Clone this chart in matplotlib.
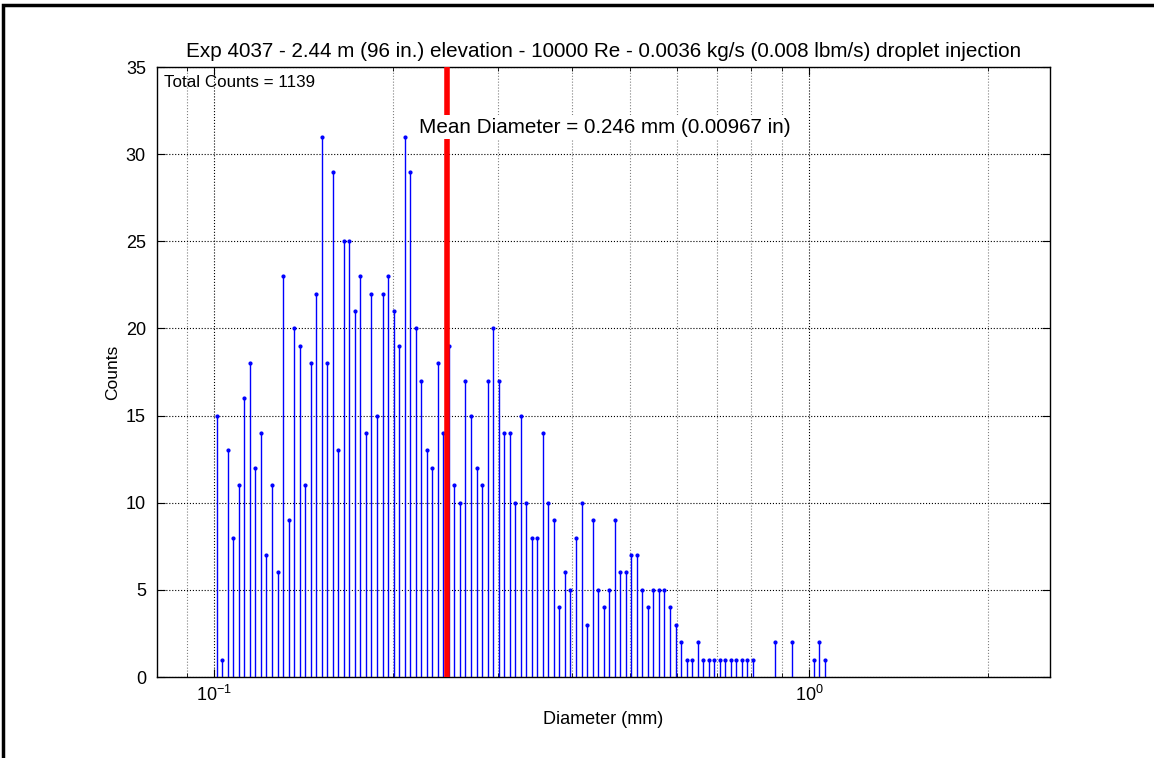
import numpy as np
import matplotlib
matplotlib.use("Agg")
import matplotlib.pyplot as plt
from matplotlib.ticker import LogLocator, NullFormatter
from matplotlib.patches import Rectangle

plt.rcParams['font.family'] = ['Liberation Sans', 'DejaVu Sans']

# bin centres (mm) (log-spaced bins)
diameters = [
    0.10105, 0.10324, 0.10547, 0.10775, 0.11008, 0.11246, 0.11489, 0.11737, 0.11991, 0.12250,
    0.12515, 0.12786, 0.13062, 0.13344, 0.13633, 0.13928, 0.14229, 0.14536, 0.14851, 0.15172,
    0.15500, 0.15835, 0.16177, 0.16527, 0.16884, 0.17249, 0.17622, 0.18003, 0.18392, 0.18790,
    0.19196, 0.19611, 0.20035, 0.20468, 0.20911, 0.21363, 0.21824, 0.22296, 0.22778, 0.23271,
    0.23774, 0.24288, 0.24813, 0.25349, 0.25897, 0.26457, 0.27029, 0.27614, 0.28211, 0.28820,
    0.29444, 0.30080, 0.30730, 0.31395, 0.32073, 0.32767, 0.33475, 0.34199, 0.34938, 0.35694,
    0.36465, 0.37254, 0.38059, 0.38882, 0.39722, 0.40581, 0.41458, 0.42355, 0.43270, 0.44206,
    0.45162, 0.46138, 0.47135, 0.48154, 0.49195, 0.50259, 0.51346, 0.52456, 0.53590, 0.54748,
    0.55932, 0.57141, 0.58376, 0.59638, 0.60928, 0.62245, 0.63590, 0.64965, 0.66370, 0.67805,
    0.69270, 0.70768, 0.72298, 0.73861, 0.75458, 0.77089, 0.78756, 0.80458, 0.82198, 0.83975,
    0.85790, 0.87645, 0.89540, 0.91475, 0.93453, 0.95473, 0.97537, 0.99646, 1.01800, 1.04001,
    1.06249,
]

counts = [
    15, 1, 13, 8, 11, 16, 18, 12, 14, 7, 11, 6, 23, 9, 20, 19, 11, 18, 22, 31, 18, 29,
    13, 25, 25, 21, 23, 14, 22, 15, 22, 23, 21, 19, 31, 29, 20, 17, 13, 12, 18, 14, 19, 11,
    10, 17, 15, 12, 11, 17, 20, 17, 14, 14, 10, 15, 10, 8, 8, 14, 10, 9, 4, 6, 5,
    8, 10, 3, 9, 5, 4, 5, 9, 6, 6, 7, 7, 5, 4, 5, 5, 5, 4, 3, 2, 1, 1,
    2, 1, 1, 1, 1, 1, 1, 1, 1, 1, 1, 0, 0, 0, 2, 0, 0, 2, 0, 0, 0, 1, 2, 1,
]

mean_diameter = 0.246
title = "Exp 4037 - 2.44 m (96 in.) elevation - 10000 Re - 0.0036 kg/s (0.008 lbm/s) droplet injection"
mean_label = "Mean Diameter = 0.246 mm (0.00967 in)"
total_label = "Total Counts = %d" % sum(counts)
x_limits = (0.0802, 2.54)
y_limits = (0, 35)
y_ticks = [0, 5, 10, 15, 20, 25, 30, 35]

fig = plt.figure(figsize=(11.54, 7.58), dpi=100)
ax = fig.add_axes([157/1154, 81/758, 893/1154, 610/758])

d = np.array(diameters)
c = np.array(counts)
m = c > 0
ml, sl, bl = ax.stem(d[m], c[m], linefmt='b-', markerfmt='b.', basefmt=' ')
plt.setp(sl, linewidth=1.0, color=(0, 0, 1))
plt.setp(ml, markersize=4, color=(0, 0, 1))

ax.plot([mean_diameter, mean_diameter], [0, 35], color='red', linewidth=4, zorder=4)
ax.text(0.9 * mean_diameter, 31.55, mean_label, fontsize=14.9, ha='left', va='center',
        zorder=5, bbox=dict(facecolor='white', edgecolor='none', pad=2))
ax.text(0.0823, 34.1, total_label, fontsize=12.25, ha='left', va='center', zorder=5)

ax.set_xscale('log')
ax.set_xlim(*x_limits)
ax.set_ylim(*y_limits)
ax.set_yticks(y_ticks)
ax.xaxis.set_major_locator(LogLocator(base=10))
ax.xaxis.set_minor_locator(LogLocator(base=10, subs=np.arange(2, 10)))
ax.xaxis.set_minor_formatter(NullFormatter())

ax.grid(True, which='major', linestyle=':', color='black', linewidth=0.8)
ax.grid(True, which='minor', axis='x', linestyle=':', color='0.5', linewidth=0.8)
ax.set_axisbelow(True)

ax.tick_params(which='both', direction='in', top=True, right=True, labelsize=13)
ax.tick_params(axis='y', pad=8)
ax.tick_params(axis='x', pad=6)
ax.tick_params(which='major', length=6)
ax.tick_params(which='minor', length=3)
for s in ax.spines.values():
    s.set_linewidth(1.0)

ax.set_title(title, fontsize=14.85, pad=7)
ax.set_xlabel("Diameter (mm)", fontsize=13)
ax.set_ylabel("Counts", fontsize=12.5, labelpad=4)

# figure frame
fig.patches.append(Rectangle((0.003, -0.01), 1.2, 1.003, transform=fig.transFigure,
                             fill=False, edgecolor='black', linewidth=2.5))

fig.savefig("out.png", dpi=100)
